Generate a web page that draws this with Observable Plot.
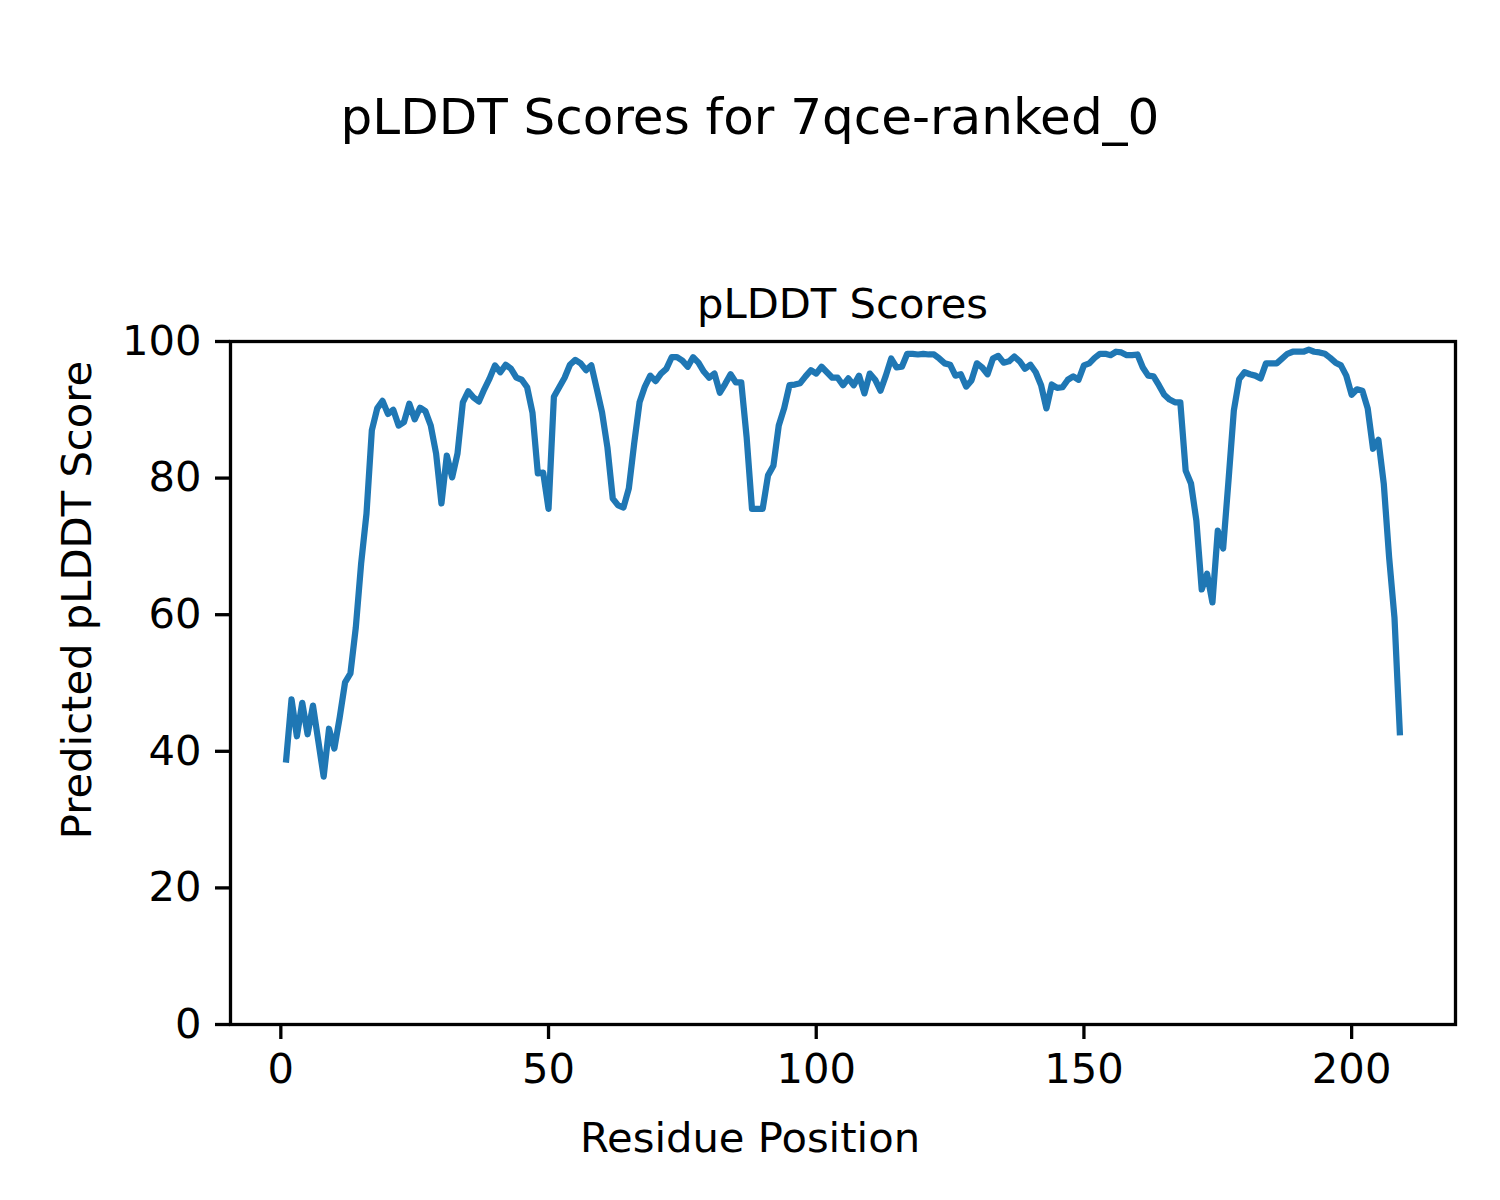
<!DOCTYPE html>
<html>
<head>
<meta charset="utf-8">
<script src="https://cdn.jsdelivr.net/npm/d3@7"></script>
<script src="https://cdn.jsdelivr.net/npm/@observablehq/plot@0.6"></script>
<style>
  html, body { margin: 0; padding: 0; background: #fff; }
  #page { position: relative; width: 1500px; height: 1200px; font-family: "DejaVu Sans", sans-serif; color: #000; overflow: hidden; background: #fff; }
  .txt { position: absolute; white-space: nowrap; line-height: 1; color: #000; }
  #header { position: relative; height: 320px; z-index: 2; }
  #chart { position: relative; height: 780px; z-index: 1; }
  #footer { position: relative; height: 100px; }
</style>
</head>
<body>
<div id="page">
  <div id="header">
    <div class="txt" id="suptitle" style="left:0;width:1500px;text-align:center;font-size:50px;top:92px;">pLDDT Scores for 7qce-ranked_0</div>
    <div class="txt" id="axtitle" style="left:230px;width:1225px;text-align:center;font-size:41.7px;top:283px;">pLDDT Scores</div>
  </div>
  <div id="chart"></div>
  <div id="footer">
    <div class="txt" id="xlabel" style="left:0;width:1500px;text-align:center;font-size:41.7px;top:17px;">Residue Position</div>
  </div>
  <div class="txt" id="ylabel" style="left:77px;top:600px;width:700px;height:41.7px;text-align:center;font-size:41.7px;transform:translate(-50%,-50%) rotate(-90deg);z-index:3;">Predicted pLDDT Score</div>
</div>
<script>
// Data
const residues = d3.range(1, 210);
const scores = [
  38.8, 47.6, 42.2, 47.1, 42.5, 46.7, 41.5, 36.3, 43.3, 40.4,
  45.0, 50.1, 51.4, 58.1, 67.5, 74.8, 87.0, 90.2, 91.3, 89.4,
  90.0, 87.7, 88.2, 90.9, 88.6, 90.3, 89.8, 87.7, 83.6, 76.3,
  83.3, 80.1, 83.6, 91.1, 92.7, 91.8, 91.2, 93.0, 94.6, 96.5,
  95.5, 96.6, 96.0, 94.7, 94.4, 93.3, 89.6, 80.7, 80.8, 75.5,
  91.9, 93.3, 94.7, 96.6, 97.3, 96.8, 95.8, 96.5, 93.1, 89.6,
  84.5, 77.0, 76.0, 75.7, 78.5, 85.1, 91.1, 93.4, 95.0, 94.2,
  95.3, 96.0, 97.7, 97.7, 97.2, 96.3, 97.7, 96.9, 95.6, 94.7,
  95.3, 92.5, 93.8, 95.2, 94.0, 94.0, 86.0, 75.5, 75.5, 75.5,
  80.4, 81.8, 87.7, 90.2, 93.6, 93.7, 93.9, 94.9, 95.8, 95.3,
  96.3, 95.5, 94.7, 94.7, 93.6, 94.6, 93.6, 95.0, 92.4, 95.3,
  94.4, 92.8, 95.0, 97.5, 96.2, 96.3, 98.2, 98.2, 98.1, 98.2,
  98.1, 98.1, 97.5, 96.8, 96.6, 95.0, 95.2, 93.4, 94.3, 96.8,
  96.2, 95.2, 97.5, 97.9, 96.9, 97.1, 97.8, 97.1, 96.0, 96.6,
  95.5, 93.6, 90.2, 93.7, 93.2, 93.3, 94.4, 94.9, 94.4, 96.5,
  96.8, 97.6, 98.2, 98.2, 98.0, 98.5, 98.4, 98.0, 98.0, 98.1,
  96.2, 95.0, 94.9, 93.6, 92.2, 91.5, 91.1, 91.1, 81.1, 79.2,
  73.8, 63.7, 66.0, 61.8, 72.3, 69.7, 79.6, 89.9, 94.5, 95.5,
  95.2, 95.0, 94.6, 96.8, 96.8, 96.8, 97.5, 98.2, 98.5, 98.5,
  98.5, 98.8, 98.5, 98.4, 98.2, 97.6, 96.9, 96.5, 95.0, 92.2,
  93.0, 92.8, 90.2, 84.3, 85.6, 79.2, 68.4, 59.6, 42.8
];
const xTicks = [0, 50, 100, 150, 200];
const yTicks = [0, 20, 40, 60, 80, 100];

const data = residues.map((r, i) => ({residue: r, score: scores[i]}));

const chart = Plot.plot({
  width: 1500,
  height: 780,
  marginLeft: 230,
  marginRight: 45,
  marginTop: 21,
  marginBottom: 76,
  style: {fontFamily: "'DejaVu Sans', sans-serif", color: "#000", background: "transparent", overflow: "visible"},
  x: {domain: [-9.4, 219.4]},
  y: {domain: [0, 100]},
  marks: [
    Plot.line(data, {x: "residue", y: "score", stroke: "#1f77b4", strokeWidth: 6.25, strokeLinejoin: "round", strokeLinecap: "square"}),
    Plot.axisX({ticks: xTicks, tickSize: 15, tickPadding: 14, fontSize: 41.7, strokeWidth: 3.3, label: null, tickFormat: d => String(d)}),
    Plot.axisY({ticks: yTicks, tickSize: 15, tickPadding: 14, fontSize: 41.7, strokeWidth: 3.3, label: null, tickFormat: d => String(d)}),
    Plot.frame({stroke: "#000", strokeWidth: 3.3})
  ]
});
document.getElementById("chart").appendChild(chart);
</script>
</body>
</html>
